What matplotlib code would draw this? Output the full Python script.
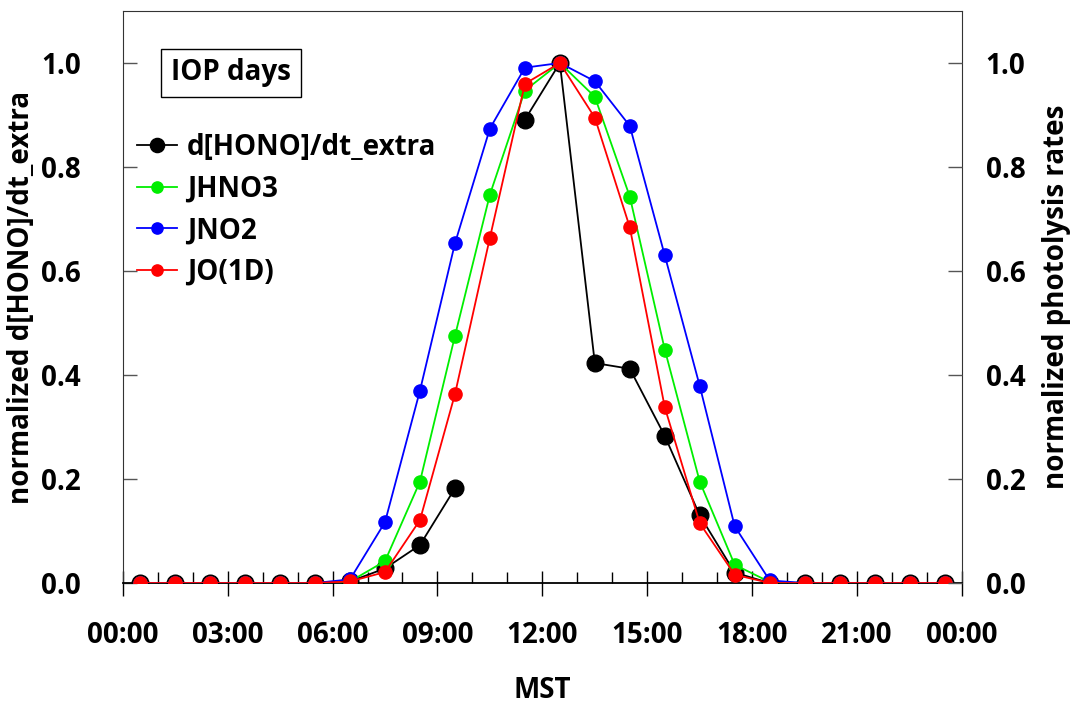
import numpy as np
import matplotlib
matplotlib.use("Agg")
import matplotlib.pyplot as plt
from matplotlib.ticker import MultipleLocator, FuncFormatter

plt.rcParams['font.family'] = ['Open Sans', 'DejaVu Sans']
plt.rcParams['font.weight'] = 'bold'

# hourly means, plotted at the half hour (MST)
hours = np.arange(24) + 0.5

hono_extra = [0, 0, 0, 0, 0, 0, 0.003, 0.028, 0.073, 0.182, np.nan, 0.891,
              1.0, 0.423, 0.412, 0.283, 0.130, 0.020, 0, 0, 0, 0, 0, 0]
jhno3 = [0, 0, 0, 0, 0, 0, 0.003, 0.042, 0.195, 0.475, 0.747, 0.947,
         1.0, 0.935, 0.743, 0.449, 0.195, 0.035, 0.002, 0, 0, 0, 0, 0]
jno2 = [0, 0, 0, 0, 0, 0, 0.007, 0.117, 0.370, 0.653, 0.874, 0.991,
        1.0, 0.965, 0.879, 0.630, 0.379, 0.109, 0.005, 0, 0, 0, 0, 0]
jo1d = [0, 0, 0, 0, 0, 0, 0.003, 0.021, 0.121, 0.363, 0.664, 0.960,
        1.0, 0.895, 0.684, 0.338, 0.115, 0.016, 0, 0, 0, 0, 0, 0]

FS = 20

fig = plt.figure(figsize=(10.83, 7.09), dpi=100)
ax = fig.add_axes([0.1133, 0.1777, 0.7750, 0.8068])

ax.plot(hours, hono_extra, '-o', color='black', lw=1.3, ms=12,
        mec='black', label='d[HONO]/dt_extra', zorder=3)
ax.plot(hours, jhno3, '-o', color='#00ee00', lw=1.3, ms=9.5,
        mec='#00ee00', label='JHNO3', zorder=4)
ax.plot(hours, jno2, '-o', color='#0000ff', lw=1.3, ms=9.5,
        mec='#0000ff', label='JNO2', zorder=5)
ax.plot(hours, jo1d, '-o', color='#ff0000', lw=1.3, ms=9.5,
        mec='#ff0000', label='JO(1D)', zorder=6)

ax.set_xlim(0, 24)
ax.set_ylim(0, 1.1)
ax.xaxis.set_major_locator(MultipleLocator(3))
ax.xaxis.set_minor_locator(MultipleLocator(1))
ax.xaxis.set_major_formatter(FuncFormatter(lambda v, p: "%02d:00" % (int(round(v)) % 24)))
ax.set_yticks([0, 0.2, 0.4, 0.6, 0.8, 1.0])
ax.yaxis.set_major_formatter(FuncFormatter(lambda v, p: "%.1f" % v))

ax.tick_params(axis='x', which='major', direction='inout', length=18, width=1,
               pad=18, labelsize=FS)
ax.tick_params(axis='x', which='minor', direction='in', length=8, width=1)
ax.tick_params(axis='y', direction='in', length=10, width=1, pad=30, labelsize=FS,
               color='#555555')
for s in ['top', 'right', 'left']:
    ax.spines[s].set_color('#333333')
ax.spines['bottom'].set_color('black')
ax.spines['bottom'].set_linewidth(1.3)

ax.set_xlabel('MST', fontsize=FS, fontweight='bold', labelpad=19)
ax.set_ylabel('normalized d[HONO]/dt_extra', fontsize=FS, fontweight='bold', labelpad=4)

ax2 = ax.twinx()
ax2.set_ylim(0, 1.1)
ax2.set_yticks([0, 0.2, 0.4, 0.6, 0.8, 1.0])
ax2.yaxis.set_major_formatter(FuncFormatter(lambda v, p: "%.1f" % v))
ax2.tick_params(axis='y', direction='in', length=10, width=1, pad=17, labelsize=FS,
                color='#555555')
ax2.set_ylabel('normalized photolysis rates', fontsize=FS, fontweight='bold', labelpad=12)
for s in ax2.spines.values():
    s.set_visible(False)

ax.text(0.129, 0.892, 'IOP days', transform=ax.transAxes, fontsize=FS,
        fontweight='bold', va='center', ha='center',
        bbox=dict(boxstyle='square,pad=0.35', fc='white', ec='black', lw=1))

leg = ax.legend(loc='upper left', bbox_to_anchor=(0.004, 0.806), frameon=False,
                borderaxespad=0, fontsize=FS, handlelength=1.45, handletextpad=0.35,
                labelspacing=0.45, markerscale=0.85)

fig.savefig('out.png', dpi=100)
